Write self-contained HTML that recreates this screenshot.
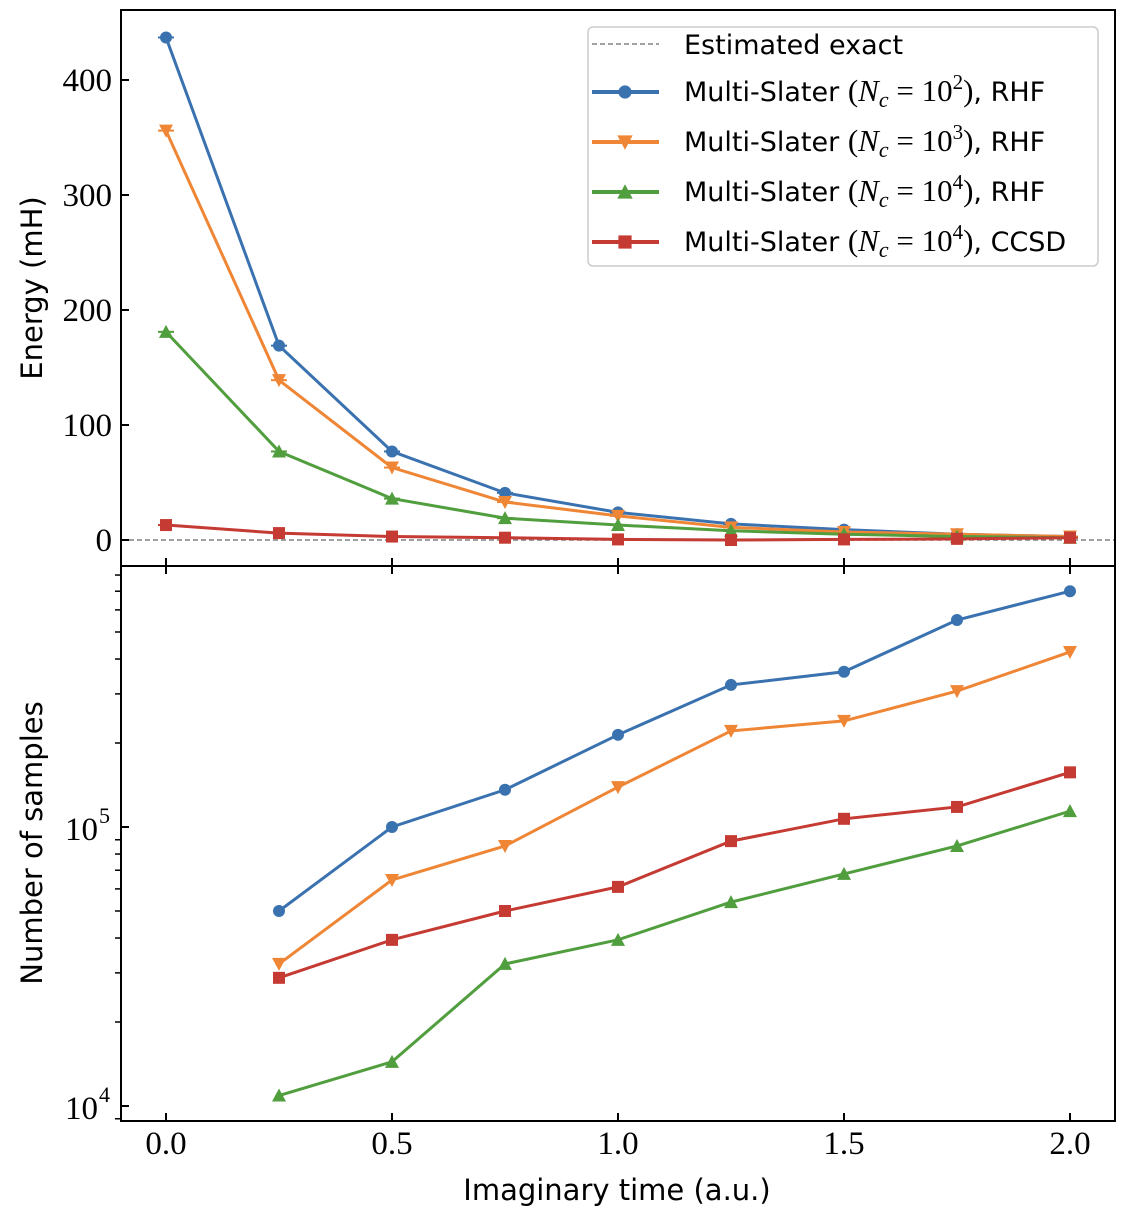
<!DOCTYPE html>
<html><head><meta charset="utf-8"><style>
html,body{margin:0;padding:0;background:#fff}
svg text{fill:#000}
.tk{font-family:"Liberation Serif",serif;font-size:33px}
.lab{font-family:"DejaVu Sans","Liberation Sans",sans-serif;font-size:29px}
.lg{font-family:"DejaVu Sans","Liberation Sans",sans-serif;font-size:27px}
</style></head><body>
<svg id="chart" width="1128" height="1222" xmlns="http://www.w3.org/2000/svg">
<g id="topPanel"></g>
<g id="botPanel"></g>
<rect x="121" y="10" width="994" height="556" fill="none" stroke="#000" stroke-width="2"/>
<rect x="121" y="566" width="994" height="555" fill="none" stroke="#000" stroke-width="2"/>
<text class="lab" x="0" y="0" transform="translate(42,288) rotate(-90)" text-anchor="middle">Energy (mH)</text>
<text class="lab" x="0" y="0" transform="translate(42,843) rotate(-90)" text-anchor="middle">Number of samples</text>
<text class="lab" x="617" y="1200" text-anchor="middle">Imaginary time (a.u.)</text>
<g>
<rect x="588" y="27" width="510" height="239" rx="5" fill="#fff" stroke="#ccc" stroke-width="1.5"/>
<line x1="592" y1="44" x2="659" y2="44" stroke="#808080" stroke-width="1.5" stroke-dasharray="5,3"/>
<text class="lg" x="684" y="54">Estimated exact</text>
<g id="legItems"></g>
</g>
</svg>
<script>
const times=[0,0.25,0.5,0.75,1.0,1.25,1.5,1.75,2.0];
const energyNc2=[437,169,77,41,24,14,9,5,3];
const energyNc3=[356,139,63,33,21,11,7,5,3];
const energyNc4=[181,77,36,19,13,8,5,3,2];
const energyCCSD=[13,6,3,2,0.5,0,0.5,1,2];
const sampleTimes=[0.25,0.5,0.75,1.0,1.25,1.5,1.75,2.0];
const samplesNc2=[50000,100000,136000,214000,323000,360000,552000,700000];
const samplesNc3=[32300,64600,85500,139000,221000,240000,307000,424000];
const samplesNc4=[10900,14400,32300,39400,53800,67900,85500,114000];
const samplesCCSD=[28800,39400,50000,61000,89000,107000,118000,157000];
const xTicks=[0,0.5,1.0,1.5,2.0];
const xTickLabels=["0.0","0.5","1.0","1.5","2.0"];
const yTicksTop=[0,100,200,300,400];
const NS="http://www.w3.org/2000/svg";
const X=t=>166+t*452;
const Ytop=v=>540-v*1.15;
const Ybot=v=>827-(Math.log10(v)-5)*279;
function mk(tag,attrs,parent){const e=document.createElementNS(NS,tag);for(const k in attrs)e.setAttribute(k,attrs[k]);parent.appendChild(e);return e;}
const topG=document.getElementById('topPanel'),botG=document.getElementById('botPanel');
const svgEl=document.getElementById('chart');
const ex=mk('line',{x1:121,x2:1115,y1:Ytop(0),y2:Ytop(0),stroke:'#808080','stroke-width':1.5,'stroke-dasharray':'5,3'},topG);


function marker(shape,x,y,c,parent,s){
  s=s||1;let e;
  if(shape==='o')e=mk('circle',{cx:x,cy:y,r:6*s,fill:c},parent);
  else if(shape==='v')e=mk('polygon',{points:`${x-7*s},${y-6*s} ${x+7*s},${y-6*s} ${x},${y+7*s}`,fill:c},parent);
  else if(shape==='^')e=mk('polygon',{points:`${x-7*s},${y+6*s} ${x+7*s},${y+6*s} ${x},${y-7*s}`,fill:c},parent);
  else e=mk('rect',{x:x-6*s,y:y-6*s,width:12*s,height:12*s,fill:c},parent);
  return e;
}
const series=[
 {name:'nc2',c:'#3a72b0',m:'o',e:energyNc2,s:samplesNc2},
 {name:'nc3',c:'#ef8636',m:'v',e:energyNc3,s:samplesNc3},
 {name:'nc4',c:'#519e3e',m:'^',e:energyNc4,s:samplesNc4},
 {name:'ccsd',c:'#c53a32',m:'s',e:energyCCSD,s:samplesCCSD}];
series.forEach(sr=>{
  const g=mk('g',{},topG);
  
  
  mk('polyline',{points:times.map((t,i)=>X(t)+','+Ytop(sr.e[i])).join(' '),fill:'none',stroke:sr.c,'stroke-width':3},g);
  times.forEach((t,i)=>{
    mk('line',{x1:X(t)-8,x2:X(t)+8,y1:Ytop(sr.e[i]),y2:Ytop(sr.e[i]),stroke:sr.c,'stroke-width':2},g);
    const p=marker(sr.m,X(t),Ytop(sr.e[i]),sr.c,g);
    
    
  });
  const g2=mk('g',{},botG);
  
  
  mk('polyline',{points:sampleTimes.map((t,i)=>X(t)+','+Ybot(sr.s[i])).join(' '),fill:'none',stroke:sr.c,'stroke-width':3},g2);
  sampleTimes.forEach((t,i)=>{
    const p=marker(sr.m,X(t),Ybot(sr.s[i]),sr.c,g2);
    
    
  });
});
xTicks.forEach((t,i)=>{
  mk('line',{x1:X(t),x2:X(t),y1:566,y2:574,stroke:'#000','stroke-width':2},svgEl);
  mk('line',{x1:X(t),x2:X(t),y1:558,y2:566,stroke:'#000','stroke-width':2},svgEl);
  mk('line',{x1:X(t),x2:X(t),y1:1113,y2:1121,stroke:'#000','stroke-width':2},svgEl);
  const tx=mk('text',{class:'tk',x:X(t),y:1154,'text-anchor':'middle'},svgEl);
  tx.textContent=xTickLabels[i];
  
  
});
yTicksTop.forEach(v=>{
  mk('line',{x1:121,x2:129,y1:Ytop(v),y2:Ytop(v),stroke:'#000','stroke-width':2},svgEl);
  const tx=mk('text',{class:'tk',x:112,y:Ytop(v)+11,'text-anchor':'end'},svgEl);
  tx.textContent=v;
  
  
});
[10000,100000].forEach((v,i)=>{
  mk('line',{x1:121,x2:129,y1:Ybot(v),y2:Ybot(v),stroke:'#000','stroke-width':2},svgEl);
  const tx=mk('text',{class:'tk',x:98,y:Ybot(v)+13,'text-anchor':'end'},svgEl);
  tx.textContent='10';
  
  
  const sp=mk('text',{class:'tk',x:99,y:Ybot(v)-4,style:'font-size:22px'},svgEl);
  sp.textContent=i?'5':'4';
});
for(let d=3;d<=5;d++){for(let k=2;k<=9;k++){const v=k*Math.pow(10,d);const y=Ybot(v);if(y>566&&y<1121)mk('line',{x1:115,x2:121,y1:y,y2:y,stroke:'#000','stroke-width':1.5},svgEl);}}
const labels=[['2','RHF'],['3','RHF'],['4','RHF'],['4','CCSD']];
const lgi=document.getElementById('legItems');
const MF='font-family:"Liberation Serif",serif;';
series.forEach((sr,i)=>{
  const y=92+i*50;
  const g=mk('g',{},lgi);
  
  
  mk('line',{x1:592,x2:659,y1:y,y2:y,stroke:sr.c,'stroke-width':4},g);
  marker(sr.m,625,y,sr.c,g,1.1);
  const t=mk('text',{class:'lg',x:684,y:y+9},g);
  const parts=[
    ['Multi-Slater ',{}],
    ['(',{style:MF+'font-size:31px'}],
    ['N',{style:MF+'font-size:31px;font-style:italic'}],
    ['c',{style:MF+'font-size:22px;font-style:italic',dy:'6'}],
    [' = 10',{style:MF+'font-size:31px;white-space:pre',dy:'-6'}],
    [labels[i][0],{style:MF+'font-size:21px',dy:'-12'}],
    [')',{style:MF+'font-size:31px',dy:'12'}],
    [', '+labels[i][1],{}]];
  parts.forEach(([s,a])=>{const ts=mk('tspan',a,t);ts.textContent=s;});
});
</script>
</body></html>
